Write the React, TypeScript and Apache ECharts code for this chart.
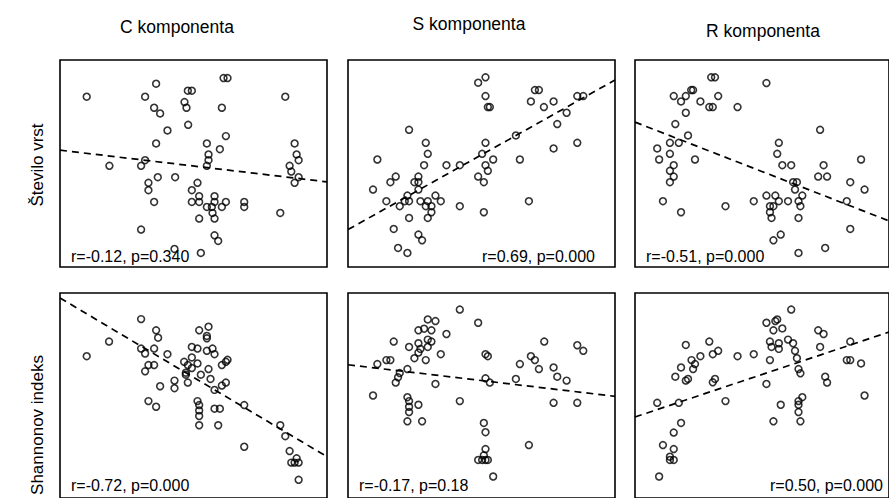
import React, { useEffect, useRef } from "react";
import * as echarts from "echarts";

// Column (CSR strategy component) and row (diversity measure) headers
const columnTitles = ["C komponenta", "S komponenta", "R komponenta"];
const rowTitles = ["Število vrst", "Shannonov indeks"];

// Plot scores per sample, [component score, diversity score] on a 0–160 / 0–124 scale
const stevC: number[][] = [
  [16, 102], [51, 102], [57.6, 109.8], [56.4, 95.4], [60, 92], [64.4, 81.8], [57.6, 74], [51, 64],
  [48.6, 60.6], [29.6, 60.6], [58.6, 53.8], [69, 53.8], [53, 50.4], [53, 46], [56.4, 39], [48.6, 22.4],
  [68.6, 10.8], [84.4, 8.4], [76.6, 105.6], [79, 105.6], [74.6, 98.8], [75.8, 95.4], [76.8, 85.2],
  [98, 113.2], [100.4, 113.2], [97, 95.4], [99.4, 78.4], [95.8, 70.6], [88, 74], [89, 67.4], [89, 64],
  [88, 60.6], [82.4, 50.4], [79, 46], [79, 39], [83.4, 42.4], [83.4, 39], [88, 36], [91, 36],
  [92.6, 42.4], [92.6, 39], [97, 36], [99.4, 39], [91.4, 32.4], [92.6, 29], [83.4, 29], [110.4, 39],
  [110.4, 36], [92.6, 19], [94.8, 15.6], [135, 102], [140.6, 74], [141.8, 67.4], [143, 64],
  [137.6, 60.6], [138.6, 57.2], [143, 53.8], [140.6, 50.4], [132, 32.4],
];

const stevS: number[][] = [
  [17.6, 64.4], [15, 46.4], [23, 39.4], [25.4, 50.8], [28.6, 54.2], [27.4, 22.8], [30, 11.4], [35.6, 8.4],
  [31, 36.4], [35.6, 42.8], [36.6, 39.4], [34, 39.4], [36.6, 29.4], [36.6, 82.2], [39.8, 50.8],
  [42.2, 54.2], [42.2, 50.8], [42.2, 46.4], [43.4, 39.4], [42.2, 19.4], [44.4, 16], [45.6, 61],
  [46.6, 74.4], [47.8, 67.8], [47.8, 39.4], [46.6, 36.4], [50, 36.4], [50, 32.8], [47.8, 29.4],
  [52.4, 42.8], [55.6, 39.4], [59, 61], [67, 61], [67, 36.4], [78, 110.4], [82.4, 113.6], [82.4, 102.4],
  [83.8, 95.8], [85, 95.8], [82.4, 74.4], [80.4, 67.8], [87, 64.4], [82.4, 61], [83.8, 57.6], [78, 54.2],
  [81.4, 50.8], [81.4, 32.8], [100.6, 78.8], [103, 64.4], [108.4, 39.4], [109.6, 99.2], [112, 106],
  [114.4, 106], [117.4, 95.8], [123.2, 99.2], [125.4, 85.6], [123.2, 71], [131, 92.4], [137.4, 102.4],
  [141, 102.4], [137.4, 74.4],
];

const stevR: number[][] = [
  [24.4, 102.4], [29, 99.2], [32, 102.4], [35.4, 106], [36.6, 106], [32, 92.4], [41.2, 99.2], [46.8, 95.8],
  [49, 95.8], [48, 113.6], [50.4, 113.6], [52.4, 102.4], [64.6, 95.8], [82.8, 110.2], [25.4, 85.6],
  [33.4, 78.8], [22, 74.4], [27.6, 74.4], [14, 71], [15.2, 64.4], [22, 67.8], [24.4, 61], [22, 57.6],
  [24.4, 54.2], [22, 50.8], [37.8, 64.4], [17.6, 39.4], [29, 32.8], [57, 36.4], [74.8, 39.4],
  [82.8, 42.8], [88.4, 42.8], [85, 36.4], [87.2, 36.4], [85, 32.8], [86, 29.4], [90.6, 39.4],
  [96.4, 39.4], [99.6, 50.8], [102, 50.8], [100.8, 46.4], [105.4, 42.8], [103, 39.4], [104.2, 36.4],
  [103, 29.4], [87.2, 16], [91.8, 19.4], [103, 8.4], [90.6, 74.4], [89.6, 67.8], [92.8, 61], [98.4, 61],
  [116.6, 82.2], [118.8, 61], [115.4, 54.2], [121, 54.2], [119.8, 11.4], [133.4, 39.4], [135.6, 50.8],
  [135.6, 22.8], [142.4, 64.4], [144.6, 46.4],
];

const shanC: number[][] = [
  [16, 85.8], [29.4, 94.6], [48.6, 108.2], [48.6, 90.4], [51, 87.4], [56.4, 90.4], [57.6, 101.4],
  [58.8, 97], [53, 80.4], [56.4, 80.4], [51, 76.6], [64.4, 87], [60, 67.6], [53, 58.6], [57.6, 55.2],
  [68.6, 71], [68.6, 66.4], [74.4, 82.4], [75.4, 75.8], [76.6, 69.8], [76.6, 80.4], [79, 85], [79, 91.4],
  [82.4, 90.4], [83.4, 101.4], [89, 103.6], [88, 98], [88, 96.6], [88, 89], [91.4, 90.4], [92.6, 87],
  [82.4, 81.4], [79, 78.6], [84.4, 74.6], [89, 78], [90.2, 72], [97, 80.4], [99.4, 82.4], [100.4, 83.6],
  [92.6, 65.4], [97, 68], [99.4, 69.8], [82.4, 58.6], [83.4, 56.2], [83.4, 53], [83.4, 49.6], [83.4, 44],
  [92.6, 54], [95.8, 54], [94.8, 44], [110.4, 56.2], [110.4, 31], [132, 44], [135, 37.4], [137.6, 28.4],
  [141.8, 24], [138.6, 21.4], [140.6, 21.4], [143, 21.4], [143, 11], [75.4, 74.6],
];

const shanS: number[][] = [
  [15, 62], [17.6, 81], [23, 83.4], [25.4, 83.4], [27.4, 94.6], [28.6, 69.8], [30, 73], [31, 75.6],
  [35.6, 78], [36.6, 91.4], [39.8, 84.6], [42.2, 93.6], [42.2, 101.4], [43.4, 90.2], [42.2, 88],
  [45.6, 102.4], [47.8, 108], [52.4, 107], [50, 101.4], [47.8, 95.8], [50, 94.6], [47.8, 91.4],
  [46.6, 83.4], [55.6, 87], [59, 99.2], [52.4, 69], [35.6, 61], [36.6, 58.6], [36.6, 55.2], [36.6, 52],
  [42.2, 56.4], [35.6, 46.4], [44.4, 46.4], [67, 114], [78, 106], [67, 58.6], [82.4, 87], [83.8, 85.8],
  [82.4, 72.4], [85, 69.8], [81.4, 45.4], [82.4, 39.8], [82.4, 29.6], [81.4, 25.8], [78, 23], [80.4, 23],
  [82.4, 23], [83.8, 23], [87, 13], [100.6, 72], [103, 81], [109.6, 85.8], [112, 83.4], [114.4, 78],
  [117.6, 94.6], [123.2, 79], [125.4, 73.4], [131, 71], [123.2, 57.6], [137.4, 57.6], [137.4, 92.4],
  [141, 89], [108.4, 32],
];

const shanR: number[][] = [
  [14, 57.6], [15.2, 13], [17.6, 32], [22, 25], [22, 23], [24.4, 23], [24.4, 29.6], [24.4, 39.6],
  [27.6, 57.6], [29, 45.4], [25.4, 73.4], [29, 79], [32, 71], [33.4, 72], [32, 92.6], [35.6, 83.4],
  [36.6, 78], [37.8, 81], [41.2, 85.8], [46.8, 94.6], [49, 87], [52.4, 89], [49, 70], [50.4, 72],
  [57, 58.6], [64.6, 85.8], [74.8, 87], [82.8, 106], [87.2, 101.4], [88.4, 107], [89.6, 108],
  [92.8, 102.6], [85, 94.6], [86, 91.4], [90.6, 93.6], [90.6, 90.2], [96.4, 95.8], [99.6, 93.6],
  [100.8, 89], [102, 84.6], [85, 83.4], [82.8, 69], [87.2, 46.4], [91.8, 56.4], [98.4, 114], [103, 78],
  [104.2, 75.4], [105.4, 61], [103, 58.6], [103, 56.4], [103, 52], [104.2, 46.4], [115.4, 101.4],
  [118.8, 99.2], [116.6, 91.4], [119.8, 73.4], [121, 69.8], [133.4, 83.4], [135.6, 83.4], [135.6, 94.6],
  [142.4, 81.4], [144.6, 62],
];

// Least-squares fit lines: fitted value at the left (x = 0) and right (x = 160) of each panel
const fitStart = [70, 22.4, 86.8, 121, 80.6, 49];
const fitEnd = [51, 112, 27.6, 25, 61.5, 100.4];

// Pearson correlation summaries per panel
const statLabels = [
  "r=-0.12, p=0.340",
  "r=0.69, p=0.000",
  "r=-0.51, p=0.000",
  "r=-0.72, p=0.000",
  "r=-0.17, p=0.18",
  "r=0.50, p=0.000",
];

const X_MAX = 160;
const Y_MAX = 124;

export default function App() {
  const ref = useRef<HTMLDivElement>(null);

  useEffect(() => {
    if (!ref.current) return;
    const chart = echarts.init(ref.current, null, { renderer: "svg" });
    const font = "'Liberation Sans', Arial, sans-serif";
    const panels = [stevC, stevS, stevR, shanC, shanS, shanR];

    const colLeft = [60, 348, 635];
    const rowTop = [60, 293];
    const panelW = 267;
    const panelH = 207;

    const grids: any[] = [];
    const xAxes: any[] = [];
    const yAxes: any[] = [];
    const series: any[] = [];
    const graphics: any[] = [];

    panels.forEach((pts, i) => {
      const row = Math.floor(i / 3);
      const col = i % 3;
      grids.push({
        left: colLeft[col],
        top: rowTop[row],
        width: panelW,
        height: panelH,
        show: true,
        borderColor: "#000",
        borderWidth: 1.6,
        backgroundColor: "transparent",
      });
      xAxes.push({ type: "value", gridIndex: i, min: 0, max: X_MAX, show: false });
      yAxes.push({ type: "value", gridIndex: i, min: 0, max: Y_MAX, show: false });
      series.push({
        type: "line",
        xAxisIndex: i,
        yAxisIndex: i,
        data: [
          [0, fitStart[i]],
          [X_MAX, fitEnd[i]],
        ],
        symbol: "none",
        lineStyle: { color: "#000", width: 1.7, type: [7, 5] },
        z: 2,
      });
      series.push({
        type: "scatter",
        xAxisIndex: i,
        yAxisIndex: i,
        data: pts,
        symbol: "circle",
        symbolSize: 6.8,
        itemStyle: { color: "rgba(255,255,255,0)", borderColor: "#000", borderWidth: 1.6 },
        z: 3,
      });

      const rightAligned = i === 1 || i === 5;
      const textY = row === 0 ? 256 : 485;
      graphics.push({
        type: "text",
        x: rightAligned ? colLeft[col] + panelW - (i === 5 ? 19 : 20) : colLeft[col] + 11,
        y: textY,
        z: 10,
        style: {
          text: statLabels[i],
          fill: "#000",
          font: `16px ${font}`,
          align: rightAligned ? "right" : "left",
          verticalAlign: "middle",
        },
      });
    });

    const titlePos = [
      [177, 27],
      [469, 24],
      [763, 31],
    ];
    columnTitles.forEach((t, c) => {
      graphics.push({
        type: "text",
        x: titlePos[c][0],
        y: titlePos[c][1],
        style: {
          text: t,
          fill: "#000",
          font: `17.5px ${font}`,
          align: "center",
          verticalAlign: "middle",
        },
      });
    });

    const rowLabelY = [165, 425];
    rowTitles.forEach((t, r) => {
      graphics.push({
        type: "text",
        x: 37,
        y: rowLabelY[r],
        rotation: Math.PI / 2,
        style: {
          text: t,
          fill: "#000",
          font: `17px ${font}`,
          align: "center",
          verticalAlign: "middle",
        },
      });
    });

    chart.setOption({
      animation: false,
      backgroundColor: "#fff",
      grid: grids,
      xAxis: xAxes,
      yAxis: yAxes,
      series,
      graphic: graphics,
    });

    return () => chart.dispose();
  }, []);

  return (
    <div
      ref={ref}
      style={{ position: "absolute", left: 0, top: 0, width: 889, height: 498 }}
    />
  );
}
